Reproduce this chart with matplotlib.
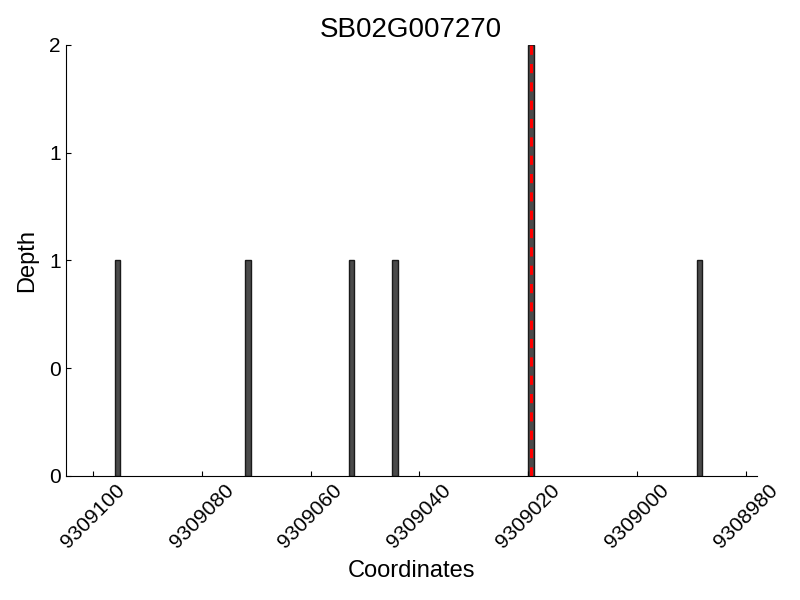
import numpy as np
import matplotlib
matplotlib.use("Agg")
import matplotlib.pyplot as plt
from matplotlib.ticker import FormatStrFormatter

plt.rcParams['font.family'] = ['Liberation Sans', 'DejaVu Sans']

# read depth per position
gene = "SB02G007270"
positions = [9309095, 9309071, 9309052, 9309044, 9309019, 9308988]
depths = [1, 1, 1, 1, 2, 1]
marker_pos = 9309019.5
x_ticks = [9309100, 9309080, 9309060, 9309040, 9309020, 9309000, 9308980]
y_ticks = [0, 0.5, 1.0, 1.5, 2.0]

fig = plt.figure(figsize=(8, 6), dpi=100)
ax = fig.add_axes([0.082, 0.207, 0.864, 0.718])

ax.bar(positions, depths, width=1, align='edge', color='#4a4a4a',
       edgecolor='#1a1a1a', linewidth=1)
ax.axvline(marker_pos, color='red', linestyle='--', linewidth=2.2, dashes=(3, 3))

ax.set_xlim(9309105, 9308978)
ax.set_ylim(0, 2)
ax.set_xticks(x_ticks)
ax.set_yticks(y_ticks)
ax.yaxis.set_major_formatter(FormatStrFormatter('%d'))
ax.ticklabel_format(axis='x', useOffset=False, style='plain')

ax.spines['top'].set_visible(False)
ax.spines['right'].set_visible(False)
ax.tick_params(direction='in', labelsize=15)
plt.setp(ax.get_xticklabels(), rotation=45)

ax.set_title(gene, fontsize=20)
ax.set_xlabel("Coordinates", fontsize=17, labelpad=6)
ax.set_ylabel("Depth", fontsize=17, labelpad=8)

fig.savefig("out.png", dpi=100)
